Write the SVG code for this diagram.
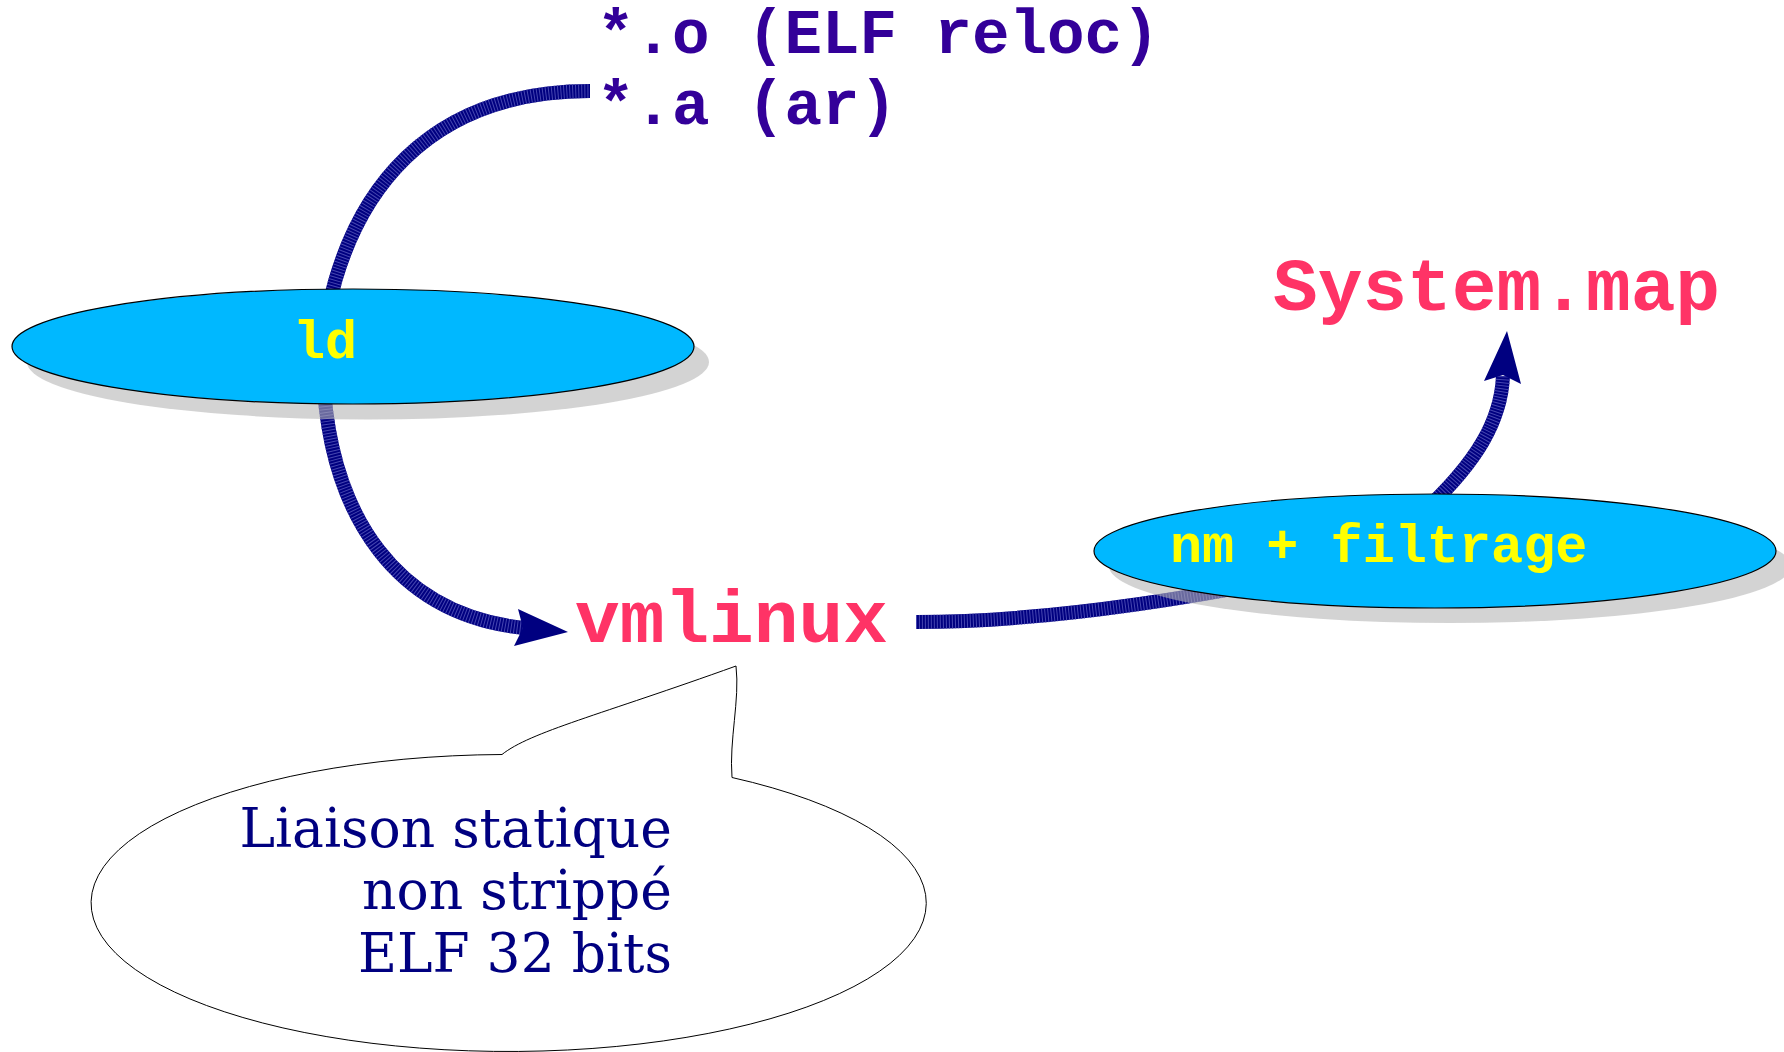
<svg xmlns="http://www.w3.org/2000/svg" width="1784" height="1052" viewBox="0 0 1784 1052">
  <style>
    .wire { fill: none; stroke: #000080; stroke-width: 14; }
    .wire-hatch { fill: none; stroke: #4646b0; stroke-width: 14; stroke-dasharray: 1 2; }
    .head { fill: #000080; }
    .shadow { fill: rgb(180,180,180); fill-opacity: 0.59; }
    .tool { fill: #00b8ff; stroke: #000000; stroke-width: 1.2; }
    .tool-label { font-family: "Liberation Mono", "Courier New", monospace; font-weight: bold; font-size: 53.5px; fill: #ffff00; }
    .file { font-family: "Liberation Mono", "Courier New", monospace; font-weight: bold; font-size: 74.5px; fill: #ff3366; }
    .input { font-family: "Liberation Mono", "Courier New", monospace; font-weight: bold; font-size: 62.5px; fill: #330099; }
    .note { fill: #ffffff; stroke: #000000; stroke-width: 1; }
    .note-text { font-family: "DejaVu Serif", "Liberation Serif", serif; font-size: 53.5px; fill: #000080; text-anchor: end; }
  </style>

  <rect x="0" y="0" width="1784" height="1052" fill="#ffffff"/>

  <!-- connectors (drawn first so that shadows and ellipses sit over them) -->
  <g id="connectors">
    <g id="c-inputs-ld">
      <path class="wire" d="M 328 310 C 352 195, 425 91, 590 91"/>
      <path class="wire-hatch" d="M 328 310 C 352 195, 425 91, 590 91"/>
    </g>
    <g id="c-ld-vmlinux">
      <path class="wire" d="M 323 370 C 328 520, 400 615, 524 628"/>
      <path class="wire-hatch" d="M 323 370 C 328 520, 400 615, 524 628"/>
      <polygon class="head" points="518,609 568,632 514,646 523,628"/>
    </g>
    <g id="c-vmlinux-nm">
      <path class="wire" d="M 916 622 C 1030 622, 1160 605, 1320 572"/>
      <path class="wire-hatch" d="M 916 622 C 1030 622, 1160 605, 1320 572"/>
    </g>
    <g id="c-nm-systemmap">
      <path class="wire" d="M 1420 515 C 1478 462, 1501 420, 1503 376"/>
      <path class="wire-hatch" d="M 1420 515 C 1478 462, 1501 420, 1503 376"/>
      <polygon class="head" points="1484,381 1507,331 1521,384 1503,375"/>
    </g>
  </g>

  <!-- linker -->
  <g id="node-ld">
    <ellipse class="shadow" cx="368" cy="362" rx="341" ry="57.5"/>
    <ellipse class="tool" cx="353" cy="346.5" rx="341" ry="57.5"/>
    <text class="tool-label" x="293" y="358">ld</text>
  </g>

  <!-- symbol extraction -->
  <g id="node-nm">
    <ellipse class="shadow" cx="1450" cy="566" rx="341" ry="57"/>
    <ellipse class="tool" cx="1435" cy="551" rx="341" ry="57"/>
    <text class="tool-label" x="1170" y="562">nm + filtrage</text>
  </g>

  <!-- inputs -->
  <g id="node-inputs">
    <text class="input" x="597" y="53">*.o (ELF reloc)</text>
    <text class="input" x="597" y="124">*.a (ar)</text>
  </g>

  <!-- outputs -->
  <g id="node-vmlinux">
    <text class="file" x="575" y="642">vmlinux</text>
  </g>
  <g id="node-systemmap">
    <text class="file" x="1273" y="310">System.map</text>
  </g>

  <!-- callout on vmlinux -->
  <g id="node-note">
    <path class="note" d="M 502 754.5 C 530 732, 600 715, 736 666 C 740 700, 729 740, 732 777.5 A 417.6 148.5 0 1 1 502 754.5 Z"/>
    <text class="note-text" x="672" y="847">Liaison statique</text>
    <text class="note-text" x="672" y="909">non strippé</text>
    <text class="note-text" x="672" y="972">ELF 32 bits</text>
  </g>
</svg>
